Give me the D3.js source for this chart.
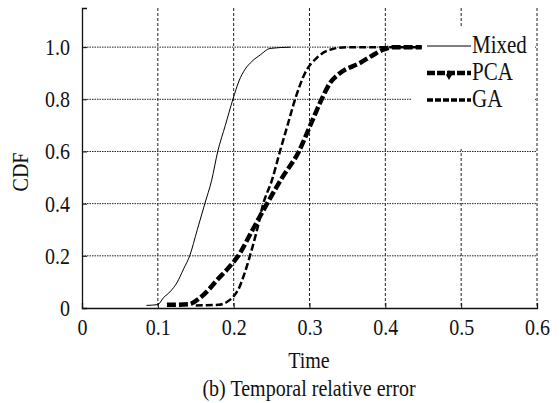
<!DOCTYPE html>
<html>
<head>
<meta charset="utf-8">
<script src="https://cdn.jsdelivr.net/npm/d3@7"></script>
<style>
  body { margin: 0; background: #fff; }
  svg text { font-family: "Liberation Serif", "Times New Roman", serif; fill: #111; }
</style>
</head>
<body>
<div id="chart"></div>
<script>
// Data
const mixedX = [0.085, 0.1, 0.107, 0.117, 0.125, 0.134, 0.142, 0.152, 0.162, 0.171, 0.179, 0.189, 0.199, 0.207, 0.215, 0.224, 0.235, 0.248, 0.275];
const mixedY = [0.01, 0.013, 0.038, 0.065, 0.096, 0.15, 0.2, 0.3, 0.4, 0.49, 0.6, 0.7, 0.8, 0.87, 0.915, 0.945, 0.97, 0.995, 1.0];

const pcaX = [0.112, 0.14, 0.156, 0.167, 0.178, 0.192, 0.206, 0.225, 0.244, 0.264, 0.286, 0.301, 0.316, 0.327, 0.34, 0.367, 0.384, 0.397, 0.41, 0.448];
const pcaY = [0.012, 0.014, 0.04, 0.07, 0.107, 0.15, 0.2, 0.3, 0.4, 0.5, 0.6, 0.7, 0.8, 0.862, 0.9, 0.94, 0.97, 0.99, 1.0, 1.0];

const gaX = [0.15, 0.18, 0.191, 0.2, 0.206, 0.214, 0.2215, 0.23, 0.239, 0.2505, 0.261, 0.271, 0.281, 0.294, 0.31, 0.327, 0.349, 0.448];
const gaY = [0.01, 0.012, 0.023, 0.045, 0.07, 0.13, 0.2, 0.29, 0.4, 0.49, 0.6, 0.7, 0.8, 0.9, 0.96, 0.99, 1.0, 1.0];

const xTicks = [0, 0.1, 0.2, 0.3, 0.4, 0.5, 0.6];
const yTicks = [0, 0.2, 0.4, 0.6, 0.8, 1.0];
const seriesNames = ["Mixed", "PCA", "GA"];

const W = 560, H = 403;
const FONT = "'Liberation Serif', 'Times New Roman', serif";
const x = d3.scaleLinear().domain([0, 0.6]).range([82, 537]);
const y = d3.scaleLinear().domain([0, 1.15]).range([308, 8]);

const svg = d3.select("#chart").append("svg")
  .attr("width", W)
  .attr("height", H);

svg.append("rect").attr("width", W).attr("height", H).attr("fill", "#fff");

// Horizontal gridlines (dotted)
svg.append("g")
  .selectAll("line")
  .data(yTicks.filter(d => d > 0))
  .join("line")
  .attr("x1", x(0)).attr("x2", x(0.6))
  .attr("y1", d => y(d)).attr("y2", d => y(d))
  .attr("stroke", "#222")
  .attr("stroke-width", 1)
  .attr("stroke-dasharray", "1.5,1");

// Vertical gridlines (dashed), incl. right edge
svg.append("g")
  .selectAll("line")
  .data(xTicks.filter(d => d > 0))
  .join("line")
  .attr("x1", d => x(d)).attr("x2", d => x(d))
  .attr("y1", y(1.15)).attr("y2", y(0))
  .attr("stroke", "#222")
  .attr("stroke-width", 1)
  .attr("stroke-dasharray", "3,2");

// Legend background
svg.append("rect")
  .attr("x", 411).attr("y", 28)
  .attr("width", 124).attr("height", 121)
  .attr("fill", "#fff");

// Axes
const fmt = d => d === 0 ? "0" : d3.format(".1f")(d);
const xAxis = svg.append("g")
  .attr("transform", `translate(0,${y(0)})`)
  .call(d3.axisBottom(x).tickValues(xTicks).tickSize(-5).tickPadding(11).tickFormat(fmt));
const yAxis = svg.append("g")
  .attr("transform", `translate(${x(0)},0)`)
  .call(d3.axisLeft(y).tickValues(yTicks).tickSize(-5).tickPadding(12).tickFormat(fmt));
[xAxis, yAxis].forEach(ax => {
  ax.select(".domain").attr("stroke", "#111").attr("stroke-width", 1.3);
  ax.selectAll(".tick line").attr("stroke", "#111");
  ax.selectAll("text")
    .attr("font-family", FONT)
    .style("font-family", FONT)
    .style("font-size", "20px")
    .attr("fill", "#111");
});

// Curves
const line = d3.line().x(d => x(d[0])).y(d => y(d[1])).curve(d3.curveMonotoneX);
const styles = {
  Mixed: { width: 1, dash: null },
  PCA: { width: 4.5, dash: "9,3" },
  GA: { width: 2.5, dash: "7,3" }
};
const series = [
  { name: "Mixed", pts: d3.zip(mixedX, mixedY) },
  { name: "PCA", pts: d3.zip(pcaX, pcaY) },
  { name: "GA", pts: d3.zip(gaX, gaY) }
];
svg.append("g")
  .selectAll("path")
  .data(series)
  .join("path")
  .attr("d", d => line(d.pts))
  .attr("fill", "none")
  .attr("stroke", "#000")
  .attr("stroke-width", d => styles[d.name].width)
  .attr("stroke-dasharray", d => styles[d.name].dash);

// Legend
const leg = svg.append("g");
const legY = [46, 73, 100];
seriesNames.forEach((name, i) => {
  const st = styles[name];
  leg.append("line")
    .attr("x1", 427).attr("x2", 471)
    .attr("y1", legY[i]).attr("y2", legY[i])
    .attr("stroke", "#000")
    .attr("stroke-width", name === "GA" ? 3.5 : st.width)
    .attr("stroke-dasharray", name === "GA" ? "6,2" : (name === "PCA" ? "8,2" : null));
  leg.append("text")
    .attr("x", 472).attr("y", legY[i] + 7)
    .style("font-family", FONT)
    .style("font-size", "21px")
    .text(name);
});
// PCA marker in legend
leg.append("path")
  .attr("d", d3.symbol(d3.symbolDiamond, 30)())
  .attr("transform", "translate(449,75)")
  .attr("fill", "#000");

// Axis titles
svg.append("text")
  .attr("x", 309).attr("y", 368)
  .attr("text-anchor", "middle")
  .style("font-family", FONT)
  .style("font-size", "20px")
  .text("Time");
svg.append("text")
  .attr("transform", "translate(28,172) rotate(-90)")
  .attr("text-anchor", "middle")
  .style("font-family", FONT)
  .style("font-size", "20px")
  .text("CDF");
svg.append("text")
  .attr("x", 309).attr("y", 396)
  .attr("text-anchor", "middle")
  .style("font-family", FONT)
  .style("font-size", "20px")
  .text("(b) Temporal relative error");

// The scanned original has slightly tall glyphs: keep widths, enlarge height
svg.selectAll("text").each(function() {
  const t = d3.select(this);
  const len = this.getComputedTextLength();
  const fs = parseFloat(t.style("font-size"));
  t.style("font-size", (fs * 1.15) + "px")
    .attr("textLength", len)
    .attr("lengthAdjust", "spacingAndGlyphs");
});
</script>
</body>
</html>
